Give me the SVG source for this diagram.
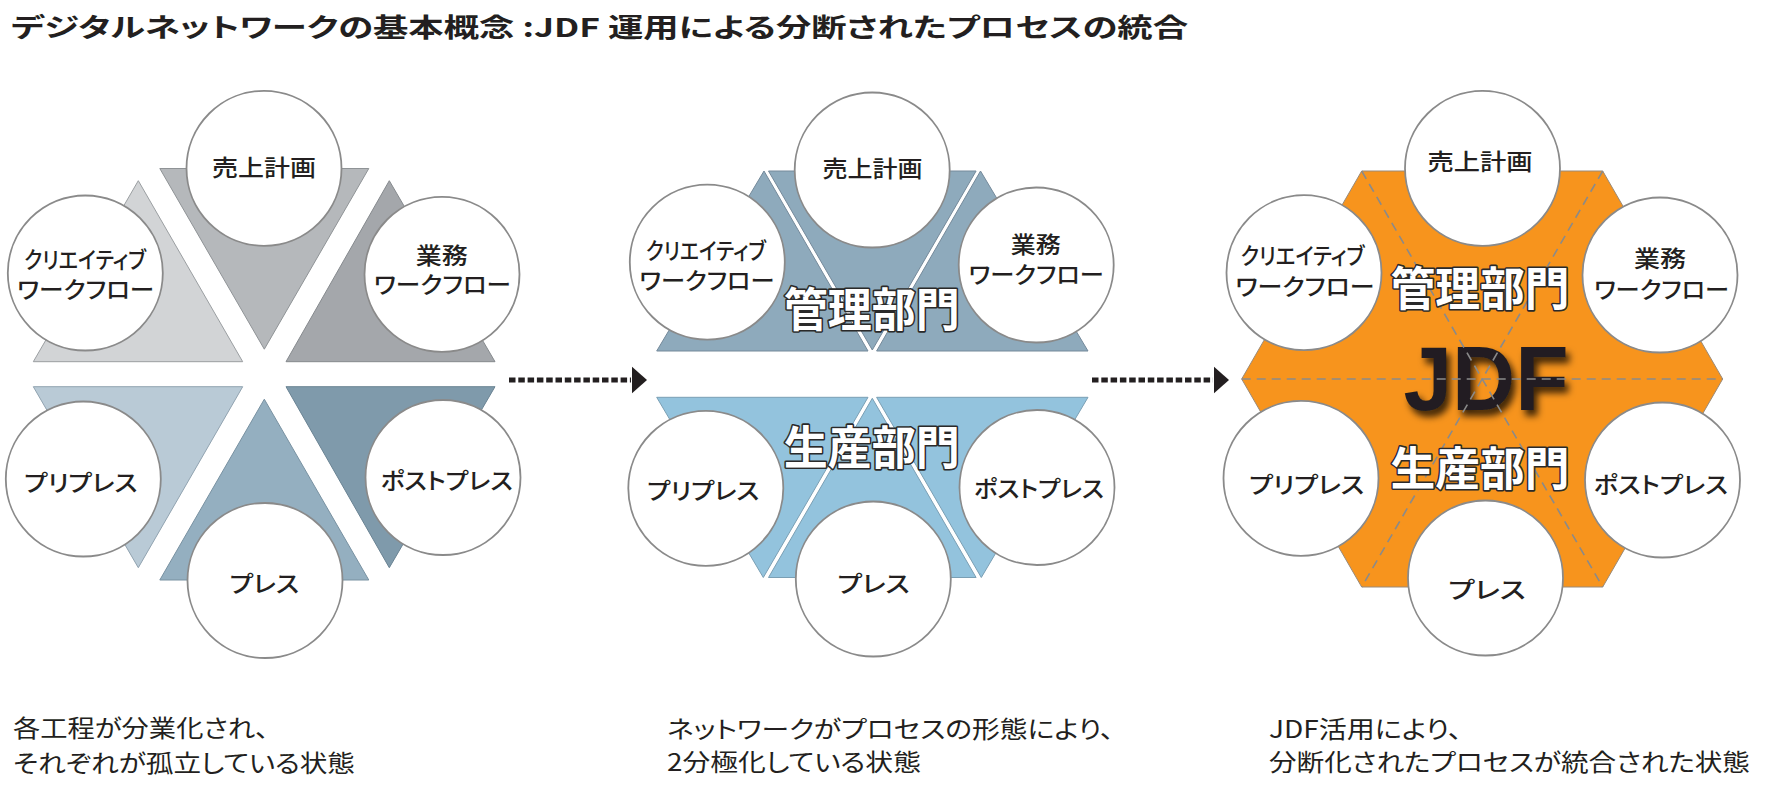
<svg xmlns="http://www.w3.org/2000/svg" width="1775" height="792" viewBox="0 0 1775 792">
<defs>
<style>
text{font-family:"Noto Sans CJK JP","Noto Sans",sans-serif;font-feature-settings:"palt";fill:#231f20}
.title{font-size:26px;font-weight:700}
.lbl{font-size:23px;font-weight:500;text-anchor:middle}
.cap{font-size:24px;font-weight:400}
.dept{font-size:46px;font-weight:700;text-anchor:middle;fill:#fff;stroke:#2a2a2a;stroke-width:3.2px;paint-order:stroke;stroke-linejoin:round}
.node{fill:#fff;stroke:#8a8a8a;stroke-width:1.8}
.tri{stroke-width:1}
.dash{stroke:#8a8a8a;stroke-width:1.6;stroke-dasharray:9 6;fill:none}
.dots{stroke:#231f20;stroke-width:5;stroke-dasharray:6.5 2.8;fill:none}
.head{fill:#231f20}
</style>
<filter id="shadow" x="-20%" y="-20%" width="150%" height="160%">
<feGaussianBlur in="SourceAlpha" stdDeviation="3.5"/>
<feOffset dx="4" dy="6" result="b"/>
<feFlood flood-color="#000" flood-opacity="0.75"/>
<feComposite in2="b" operator="in"/>
<feMerge><feMergeNode/><feMergeNode in="SourceGraphic"/></feMerge>
</filter>
</defs>
<rect width="1775" height="792" fill="#fff"/>

<text class="title" x="11" y="36.5" textLength="1177" lengthAdjust="spacingAndGlyphs">デジタルネットワークの基本概念 :JDF 運用による分断されたプロセスの統合</text>

<!-- Diagram 1 -->
<g id="d1-shapes">
<polygon class="tri" points="159.8,168.5 368.8,168.5 264.3,349.2" fill="#b5b8bb" stroke="#8f9396"/>
<polygon class="tri" points="138.3,180.7 33.3,361.7 242.7,361.7" fill="#d2d4d6" stroke="#9a9ea1"/>
<polygon class="tri" points="389.3,180.7 286,361.7 495,361.7" fill="#a4a7ab" stroke="#85898d"/>
<polygon class="tri" points="33.3,386.7 242.7,386.7 138.3,567.7" fill="#b9cad6" stroke="#91a3b0"/>
<polygon class="tri" points="264.3,399.2 159.8,580 368.8,580" fill="#94afc0" stroke="#7891a1"/>
<polygon class="tri" points="286,386.7 495,386.7 389.3,567.7" fill="#7f9aab" stroke="#6a8393"/>
</g>
<g id="d1-sales"><circle class="node" cx="264" cy="168.3" r="77.5"/><text class="lbl" x="264" y="176" textLength="104" lengthAdjust="spacingAndGlyphs">売上計画</text></g>
<g id="d1-creative"><circle class="node" cx="85.3" cy="273" r="77.5"/><text class="lbl" x="85" y="268" textLength="122" lengthAdjust="spacingAndGlyphs">クリエイティブ</text><text class="lbl" x="85.8" y="297.5" textLength="137" lengthAdjust="spacingAndGlyphs">ワークフロー</text></g>
<g id="d1-business"><circle class="node" cx="442" cy="274.3" r="77.5"/><text class="lbl" x="441.7" y="263.5" textLength="52" lengthAdjust="spacingAndGlyphs">業務</text><text class="lbl" x="442.5" y="293" textLength="137" lengthAdjust="spacingAndGlyphs">ワークフロー</text></g>
<g id="d1-prepress"><circle class="node" cx="83.3" cy="479" r="77.5"/><text class="lbl" x="80.8" y="491" textLength="113" lengthAdjust="spacingAndGlyphs">プリプレス</text></g>
<g id="d1-postpress"><circle class="node" cx="443" cy="477.5" r="77.5"/><text class="lbl" x="446.7" y="489" textLength="132" lengthAdjust="spacingAndGlyphs">ポストプレス</text></g>
<g id="d1-press"><circle class="node" cx="265" cy="580.5" r="77.5"/><text class="lbl" x="264.4" y="592" textLength="69" lengthAdjust="spacingAndGlyphs">プレス</text></g>

<!-- Diagram 2 -->
<g id="d2-management-band">
<polygon class="tri" points="656.7,351 764,171 868,351" fill="#8eaabc" stroke="#74899a"/>
<polygon class="tri" points="768.5,171 976.1,171 872.3,350" fill="#8eaabc" stroke="#74899a"/>
<polygon class="tri" points="980.5,171 1088,351 876.6,351" fill="#8eaabc" stroke="#74899a"/>
</g>
<g id="d2-production-band">
<polygon class="tri" points="656.7,397.3 868,397.3 763.3,577.5" fill="#93c3dd" stroke="#7a9fb4"/>
<polygon class="tri" points="872.3,398.3 768.5,577.5 976.1,577.5" fill="#93c3dd" stroke="#7a9fb4"/>
<polygon class="tri" points="876.6,397.3 1088,397.3 981.3,577.5" fill="#93c3dd" stroke="#7a9fb4"/>
</g>
<g id="d2-sales"><circle class="node" cx="872.2" cy="170" r="77.5"/><text class="lbl" x="872.5" y="177" textLength="100" lengthAdjust="spacingAndGlyphs">売上計画</text></g>
<g id="d2-creative"><circle class="node" cx="707.3" cy="262.2" r="77.5"/><text class="lbl" x="705.8" y="259" textLength="120" lengthAdjust="spacingAndGlyphs">クリエイティブ</text><text class="lbl" x="707" y="288.5" textLength="135" lengthAdjust="spacingAndGlyphs">ワークフロー</text></g>
<g id="d2-business"><circle class="node" cx="1036.2" cy="265" r="77.5"/><text class="lbl" x="1035.8" y="253" textLength="50" lengthAdjust="spacingAndGlyphs">業務</text><text class="lbl" x="1036.3" y="283" textLength="135" lengthAdjust="spacingAndGlyphs">ワークフロー</text></g>
<g id="d2-prepress"><circle class="node" cx="705.8" cy="488.3" r="77.5"/><text class="lbl" x="703.3" y="499" textLength="112" lengthAdjust="spacingAndGlyphs">プリプレス</text></g>
<g id="d2-postpress"><circle class="node" cx="1037" cy="487.5" r="77.5"/><text class="lbl" x="1039" y="497" textLength="130" lengthAdjust="spacingAndGlyphs">ポストプレス</text></g>
<g id="d2-press"><circle class="node" cx="873.3" cy="579" r="77.5"/><text class="lbl" x="873.7" y="592" textLength="72" lengthAdjust="spacingAndGlyphs">プレス</text></g>
<g id="d2-management"><text class="dept" x="871.7" y="326" textLength="176" lengthAdjust="spacingAndGlyphs">管理部門</text></g>
<g id="d2-production"><text class="dept" x="871.7" y="464" textLength="176" lengthAdjust="spacingAndGlyphs">生産部門</text></g>

<!-- Diagram 3 -->
<g id="d3-hexagon">
<polygon points="1361.7,171 1602.7,171 1722.7,379 1602.7,587 1361.7,587 1241.7,379" fill="#f7941d" stroke="#9a8a78" stroke-width="1"/>
</g>
<g id="d3-jdf"><text x="1486" y="410" text-anchor="middle" textLength="165" lengthAdjust="spacingAndGlyphs" filter="url(#shadow)" style="font-family:'Liberation Sans',Arial,sans-serif;font-size:90px;font-weight:700;fill:#231f20;font-feature-settings:normal">JDF</text></g>
<g id="d3-dashes">
<line class="dash" x1="1241.7" y1="379" x2="1722.7" y2="379"/>
<line class="dash" x1="1361.7" y1="171" x2="1602.7" y2="587"/>
<line class="dash" x1="1602.7" y1="171" x2="1361.7" y2="587"/>
</g>
<g id="d3-sales"><circle class="node" cx="1482.5" cy="168.3" r="77.5"/><text class="lbl" x="1480" y="170" textLength="105" lengthAdjust="spacingAndGlyphs">売上計画</text></g>
<g id="d3-creative"><circle class="node" cx="1304" cy="272.7" r="77.5"/><text class="lbl" x="1302.5" y="263.5" textLength="124" lengthAdjust="spacingAndGlyphs">クリエイティブ</text><text class="lbl" x="1305" y="294.5" textLength="139" lengthAdjust="spacingAndGlyphs">ワークフロー</text></g>
<g id="d3-business"><circle class="node" cx="1660" cy="275" r="77.5"/><text class="lbl" x="1660" y="266.5" textLength="52" lengthAdjust="spacingAndGlyphs">業務</text><text class="lbl" x="1661.7" y="297.5" textLength="135" lengthAdjust="spacingAndGlyphs">ワークフロー</text></g>
<g id="d3-prepress"><circle class="node" cx="1301" cy="478.3" r="77.5"/><text class="lbl" x="1306.7" y="492.5" textLength="115" lengthAdjust="spacingAndGlyphs">プリプレス</text></g>
<g id="d3-postpress"><circle class="node" cx="1662.5" cy="480" r="77.5"/><text class="lbl" x="1660.8" y="492.5" textLength="134" lengthAdjust="spacingAndGlyphs">ポストプレス</text></g>
<g id="d3-press"><circle class="node" cx="1485.5" cy="578" r="77.5"/><text class="lbl" x="1487" y="598" textLength="77" lengthAdjust="spacingAndGlyphs">プレス</text></g>
<g id="d3-management"><text class="dept" x="1480" y="305" textLength="179" lengthAdjust="spacingAndGlyphs">管理部門</text></g>
<g id="d3-production"><text class="dept" x="1480" y="485" textLength="179" lengthAdjust="spacingAndGlyphs">生産部門</text></g>

<!-- Connectors -->
<g id="connectors">
<line class="dots" x1="509" y1="380" x2="631" y2="380"/>
<polygon class="head" points="632,366.7 647,380 632,393.3"/>
<line class="dots" x1="1092" y1="380" x2="1213" y2="380"/>
<polygon class="head" points="1214,366.7 1229,380 1214,393.3"/>
</g>

<!-- Captions -->
<g id="captions">
<text class="cap" x="13" y="737" textLength="256" lengthAdjust="spacingAndGlyphs">各工程が分業化され、</text>
<text class="cap" x="13" y="772" textLength="342" lengthAdjust="spacingAndGlyphs">それぞれが孤立している状態</text>
<text class="cap" x="667" y="738" textLength="447" lengthAdjust="spacingAndGlyphs">ネットワークがプロセスの形態により、</text>
<text class="cap" x="667" y="771" textLength="254" lengthAdjust="spacingAndGlyphs">2分極化している状態</text>
<text class="cap" x="1269" y="738" textLength="193" lengthAdjust="spacingAndGlyphs">JDF活用により、</text>
<text class="cap" x="1269" y="771" textLength="481" lengthAdjust="spacingAndGlyphs">分断化されたプロセスが統合された状態</text>
</g>
</svg>
